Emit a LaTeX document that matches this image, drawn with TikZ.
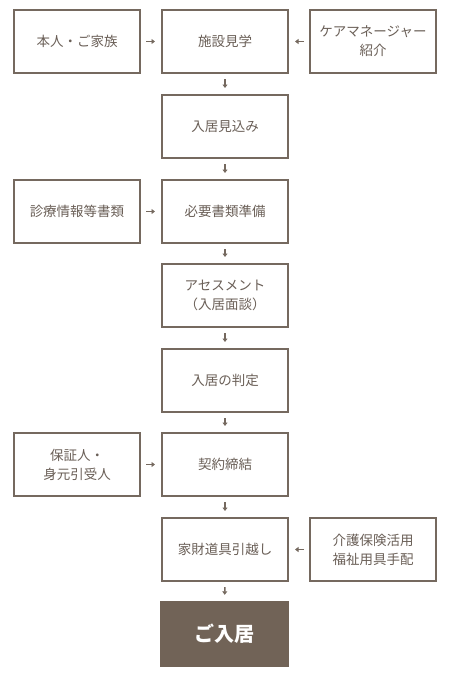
\documentclass[tikz,border=0pt]{standalone}
\usepackage{fontspec}
\setmainfont{Noto Sans CJK JP}
\usetikzlibrary{arrows.meta}
\definecolor{brd}{HTML}{75695F}
\definecolor{txt}{HTML}{6A5F57}
\definecolor{fin}{HTML}{716357}
\begin{document}
\begin{tikzpicture}[x=1pt,y=-1pt,
  stepbox/.style={draw=brd,line width=2pt,fill=white,minimum width=126pt,minimum height=63pt,
    inner sep=0pt,align=center,text=txt,font=\fontsize{13.5}{19}\selectfont},
  finalbox/.style={fill=fin,draw=none,minimum width=129pt,minimum height=66pt,inner sep=0pt,
    text=white,font=\fontsize{20}{24}\selectfont\bfseries},
  arr/.style={draw=brd,line width=1.5pt,-{Triangle[length=3.5pt,width=5pt]},shorten <=5pt,shorten >=6pt}]
\useasboundingbox (0,0) rectangle (450,678);
\node[stepbox] (a1) at (77,41.5) {本人・ご家族};
\node[stepbox] (b1) at (225,41.5) {施設見学};
\node[stepbox] (c1) at (373,41.5) {ケアマネージャー\\紹介};
\node[stepbox] (b2) at (225,126.5) {入居見込み};
\node[stepbox] (a3) at (77,211.5) {診療情報等書類};
\node[stepbox] (b3) at (225,211.5) {必要書類準備};
\node[stepbox] (b4) at (225,295.5) {アセスメント\\（入居面談）};
\node[stepbox] (b5) at (225,380.5) {入居の判定};
\node[stepbox] (a6) at (77,464.5) {保証人・\\身元引受人};
\node[stepbox] (b6) at (225,464.5) {契約締結};
\node[stepbox] (b7) at (225,549.5) {家財道具引越し};
\node[stepbox] (c7) at (373,549.5) {介護保険活用\\福祉用具手配};
\node[finalbox] (b8) at (224.5,634) {ご入居};
\draw[arr] (a1) -- (b1);
\draw[arr] (c1) -- (b1);
\draw[arr] (b1) -- (b2);
\draw[arr] (b2) -- (b3);
\draw[arr] (a3) -- (b3);
\draw[arr] (b3) -- (b4);
\draw[arr] (b4) -- (b5);
\draw[arr] (b5) -- (b6);
\draw[arr] (a6) -- (b6);
\draw[arr] (b6) -- (b7);
\draw[arr] (c7) -- (b7);
\draw[arr] (b7) -- (b8);
\end{tikzpicture}
\end{document}
